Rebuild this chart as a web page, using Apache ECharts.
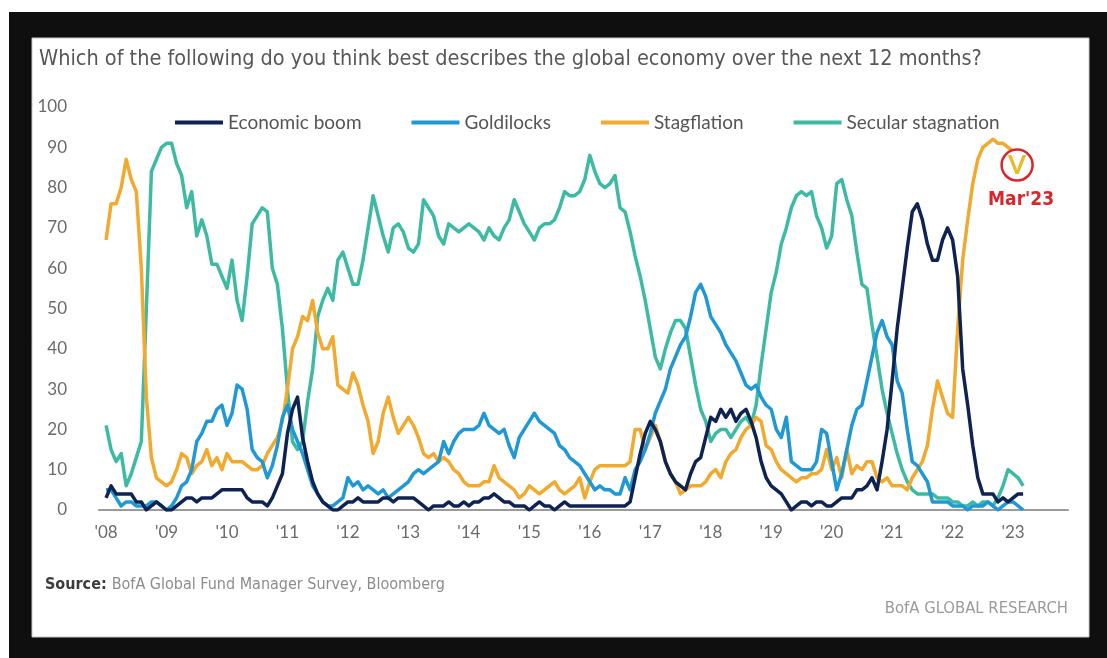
<!DOCTYPE html>
<html>
<head>
<meta charset="utf-8">
<title>Global economy outlook – Fund Manager Survey</title>
<script src="https://cdn.jsdelivr.net/npm/echarts@6.0.0/dist/echarts.min.js"></script>
<style>
  html, body { margin: 0; padding: 0; background: #0f0f0f; }
  #chart { width: 1107px; height: 658px; }
</style>
</head>
<body>
<div id="chart"></div>
<script>
// Monthly survey readings (% of respondents), Jan 2008 .. Mar 2023
const yearLabels = ["'08","'09","'10","'11","'12","'13","'14","'15","'16","'17","'18","'19","'20","'21","'22","'23"];

const economicBoom = [
  3,6,4,4,4,4,2,2,0,1, 2,1,0,0,1,2,3,3,2,3, 3,3,4,5,5,5,5,5,3,2,
  2,2,1,3,6,9,19,25,28,18, 12,7,4,2,1,0,0,1,2,2, 3,2,2,2,2,3,3,2,3,3,
  3,3,2,1,0,1,1,1,2,1, 1,2,1,2,2,3,3,4,3,2, 2,1,1,1,0,1,2,1,1,0,
  1,2,1,1,1,1,1,1,1,1, 1,1,1,1,2,8,14,19,22,20, 17,12,9,7,6,5,9,12,13,18,
  23,22,25,23,25,22,24,25,22,18, 12,8,6,5,4,2,0,1,2,2, 1,2,2,1,1,2,3,3,3,5,
  5,6,8,5,12,20,32,45,55,65, 74,76,72,66,62,62,67,70,67,58, 35,26,16,8,4,4,4,2,3,2,
  3,4,4
];

const goldilocks = [
  5,5,3,1,2,2,1,1,1,2, 2,1,0,1,3,6,7,10,17,19, 22,22,25,26,21,24,31,30,25,15,
  13,12,8,11,16,23,26,20,17,14, 10,6,4,2,1,1,2,3,8,6, 7,5,6,5,4,5,3,4,5,6,
  7,9,10,9,10,11,12,17,14,17, 19,20,20,20,21,24,21,20,19,20, 16,13,18,20,22,24,22,21,20,19,
  16,15,13,12,11,9,7,5,6,5, 5,4,4,8,5,10,12,15,19,24, 27,30,35,38,41,43,48,54,56,53,
  48,46,44,41,39,37,34,31,30,31, 28,26,25,20,18,23,12,11,10,10, 10,12,20,19,12,5,9,15,21,25,
  26,32,38,44,47,43,41,32,29,20, 12,11,9,7,2,2,2,2,1,1, 1,0,1,1,1,2,1,0,1,2,
  2,1,0
];

const stagflation = [
  67,76,76,80,87,82,79,60,28,13, 8,7,6,7,10,14,13,9,11,12, 15,11,13,10,14,12,12,12,11,10,
  10,11,14,16,18,22,30,40,43,48, 47,52,44,40,40,43,31,30,29,34, 31,26,22,14,17,24,28,23,19,21,
  23,21,18,14,13,14,12,13,12,10, 9,7,6,6,6,7,7,11,8,7, 6,5,3,4,6,5,4,5,6,7,
  5,4,5,6,8,3,7,10,11,11, 11,11,11,11,12,20,20,15,18,21, 17,12,9,7,4,5,6,6,6,7,
  9,10,8,12,14,15,18,20,21,23, 22,16,15,12,10,9,8,7,8,8, 9,9,10,15,10,13,8,15,9,11,
  10,12,12,8,7,8,6,6,6,5, 8,10,12,16,25,32,28,24,23,45, 62,72,81,87,90,91,92,91,91,90,
  89,88,88
];

const secularStagnation = [
  21,15,12,14,6,9,13,17,50,84, 87,90,91,91,86,83,75,79,68,72, 68,61,61,58,55,62,52,47,58,71,
  73,75,74,60,56,45,30,17,15,17, 27,35,48,52,55,52,62,64,60,56, 56,62,70,78,73,68,64,70,71,69,
  65,64,66,77,75,73,68,66,71,70, 69,70,71,70,69,67,70,68,67,70, 72,77,74,71,69,67,70,71,71,72,
  75,79,78,78,79,82,88,84,81,80, 81,83,75,74,69,63,58,52,45,38, 35,40,44,47,47,45,38,31,25,22,
  17,19,20,20,18,20,22,23,21,26, 36,45,54,59,66,70,75,78,79,78, 79,73,70,65,68,81,82,77,73,64,
  56,55,46,38,30,24,19,14,10,7, 5,4,4,4,4,3,3,3,2,2, 1,1,2,1,2,2,1,3,6,10,
  9,8,6
];

const seriesNames = ['Economic boom', 'Goldilocks', 'Stagflation', 'Secular stagnation'];
const seriesColors = {
  'Economic boom': '#0f2352',
  'Goldilocks': '#1f98d4',
  'Stagflation': '#f1a92e',
  'Secular stagnation': '#3dbba2'
};

// month index 0 = Jan 2008
const toPoints = arr => arr.map((v, i) => [i, v]);

const font = 'Lato, "Open Sans", sans-serif';
const narrow = '"DejaVu Sans Condensed", Lato, sans-serif';

function lineSeries(name, values, extra) {
  return Object.assign({
    name: name,
    type: 'line',
    data: toPoints(values),
    showSymbol: false,
    symbol: 'none',
    animation: false,
    lineStyle: { width: 3.5, color: seriesColors[name], join: 'round' },
    itemStyle: { color: seriesColors[name] }
  }, extra || {});
}

const chart = echarts.init(document.getElementById('chart'), null, { renderer: 'canvas' });

chart.setOption({
  backgroundColor: '#0f0f0f',
  animation: false,
  graphic: [
    { type: 'rect', z: -20, shape: { x: 0, y: 0, width: 1107, height: 12 }, style: { fill: '#ffffff' } },
    { type: 'rect', z: -20, shape: { x: 0, y: 0, width: 9, height: 658 }, style: { fill: '#ffffff' } },
    { type: 'rect', z: -20, shape: { x: 32, y: 38, width: 1057, height: 599 }, style: { fill: '#ffffff', stroke: '#c8c8c8', lineWidth: 1 } }
  ],
  title: [
    {
      text: 'Which of the following do you think best describes the global economy over the next 12 months?',
      left: 39, top: 48, padding: 0,
      textStyle: { fontFamily: narrow, fontSize: 21.5, fontWeight: 'normal', color: '#575757' }
    },
    {
      text: '{b|Source:} {n|BofA Global Fund Manager Survey, Bloomberg}',
      left: 45, top: 576, padding: 0,
      textStyle: {
        fontWeight: 'normal',
        rich: {
          b: { fontFamily: narrow, fontSize: 16, fontWeight: 'bold', color: '#3c3c3c' },
          n: { fontFamily: narrow, fontSize: 16, fontWeight: 'normal', color: '#8c8c8c' }
        }
      }
    },
    {
      text: 'BofA GLOBAL RESEARCH',
      right: 39, top: 600, padding: 0,
      textStyle: { fontFamily: narrow, fontSize: 16.5, fontWeight: 'normal', color: '#9a9a9a' }
    }
  ],
  legend: {
    data: seriesNames,
    left: 175, top: 113,
    icon: 'rect',
    itemWidth: 48, itemHeight: 4, itemGap: 50,
    padding: 0,
    textStyle: { fontFamily: font, fontSize: 19, color: '#555555' }
  },
  grid: { left: 99, right: 39, top: 107, bottom: 148, containLabel: false },
  xAxis: {
    type: 'value',
    min: -1.4, max: 190.9,
    axisLine: { show: true, lineStyle: { color: '#9b9b9b', width: 2 } },
    axisTick: { show: false },
    splitLine: { show: false },
    axisLabel: {
      customValues: yearLabels.map((_, k) => 12 * k),
      formatter: v => yearLabels[Math.round(v / 12)],
      margin: 14,
      fontFamily: font, fontSize: 17, color: '#6a6a6a'
    }
  },
  yAxis: {
    type: 'value',
    min: 0, max: 100, interval: 10,
    axisLine: { show: false },
    axisTick: { show: false },
    splitLine: { show: false },
    axisLabel: { margin: 32, fontFamily: font, fontSize: 17, color: '#6a6a6a' }
  },
  series: [
    lineSeries('Secular stagnation', secularStagnation),
    lineSeries('Stagflation', stagflation, {
      markPoint: {
        silent: true,
        animation: false,
        data: [
          {
            coord: [180.8, 85.6],
            symbol: 'circle', symbolSize: 31,
            itemStyle: { color: '#ffffff', borderColor: '#d9262c', borderWidth: 2.5 },
            label: { show: true, position: 'inside', formatter: 'V', color: '#e6bb2c',
                     fontFamily: font, fontWeight: 'bold', fontSize: 26, offset: [0, 1] }
          },
          {
            coord: [180.8, 85.6],
            symbol: 'circle', symbolSize: 0,
            label: { show: true, position: 'inside', formatter: "Mar'23", color: '#d9262c',
                     fontFamily: narrow, fontWeight: 'bold', fontSize: 19, offset: [4, 35] }
          }
        ]
      }
    }),
    lineSeries('Goldilocks', goldilocks),
    lineSeries('Economic boom', economicBoom)
  ]
});
</script>
</body>
</html>
